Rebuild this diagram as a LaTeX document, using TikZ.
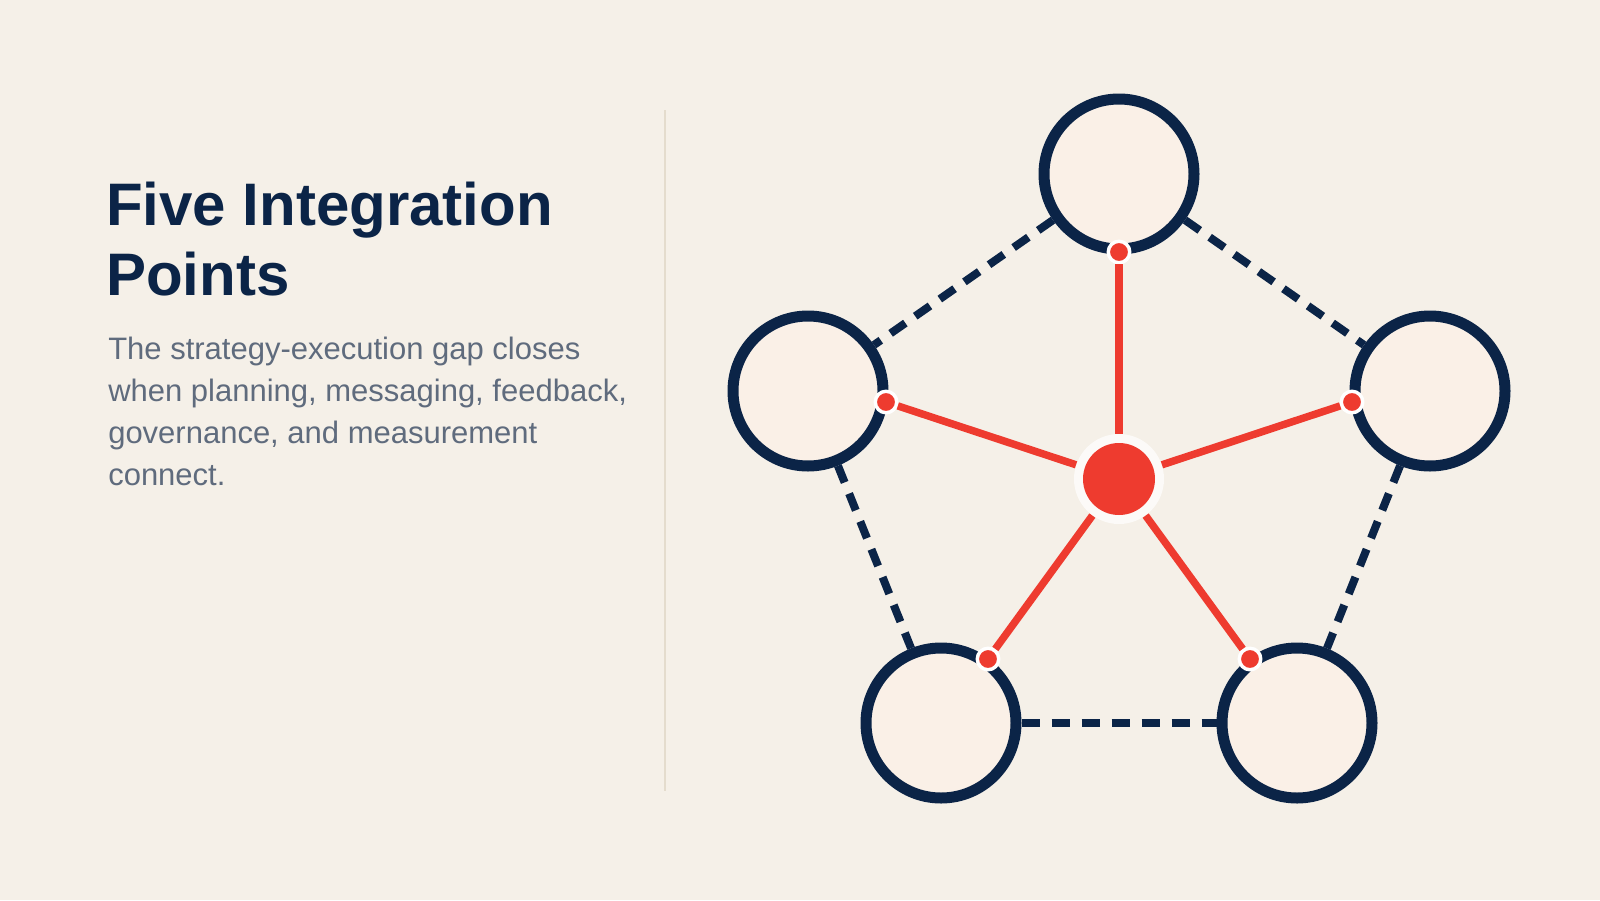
\documentclass[tikz,border=0pt]{standalone}
\usepackage{fontspec}
\setmainfont{Liberation Sans}
\definecolor{paper}{HTML}{F5F0E8}
\definecolor{navy}{HTML}{0B2447}
\definecolor{linen}{HTML}{FAF0E7}
\definecolor{signal}{HTML}{EE3B2F}
\definecolor{slate}{HTML}{5F6B7D}
\definecolor{rulecol}{HTML}{E4DCCD}
\begin{document}
\begin{tikzpicture}[x=.75pt, y=-.75pt, line join=round,
	point/.style={circle, draw=navy, line width=8.25pt, fill=linen, minimum size=112.5pt, inner sep=0pt},
	link/.style={navy, line width=6pt, dash pattern=on 13.5pt off 9pt},
	spoke/.style={signal, line width=5.6pt},
	joint/.style={circle, fill=signal, draw=white, line width=2.6pt, minimum size=16.1pt, inner sep=0pt},
	hub/.style={circle, fill=white, fill opacity=.7, minimum size=67.5pt, inner sep=0pt}]
	\fill[paper] (0,0) rectangle (1600,900);
	\useasboundingbox (0,0) rectangle (1600,900);
	%\draw[gray!30] (0,0) grid[step=100] (1600,900);
	\draw[rulecol, line width=1.9pt] (665,110) -- (665,791);
	\node[anchor=base west, inner sep=0pt, align=left, text=navy, font=\fontsize{45}{52.5}\selectfont\bfseries] (title) at (106,295) {Five Integration\\Points};
	\node[anchor=base west, inner sep=0pt, align=left, text=slate, font=\fontsize{23.25}{31.3}\selectfont] (lead) at (108,485) {The strategy-execution gap closes\\when planning, messaging, feedback,\\governance, and measurement\\connect.};
	\foreach \n/\x/\y in {top/1119/174, lft/808/391, rgt/1430/391, bl/941/723, br/1297/723}
		\node[point] (\n) at (\x,\y) {};
	\foreach \a/\b in {top/lft, top/rgt, lft/bl, rgt/br, bl/br}
		\draw[link] (\a) -- (\b);
	\node[hub] (hub) at (1119,479) {};
	\fill[signal] (hub.center) circle (27pt);
	\foreach \n/\x/\y in {top/1119/252, lft/886/402, rgt/1352/402, bl/988/659, br/1250/659}
		\node[joint] (j\n) at (\x,\y) {};
	\foreach \n in {top, lft, rgt, bl, br}
		\draw[spoke] (hub) -- (j\n);
\end{tikzpicture}
\end{document}
